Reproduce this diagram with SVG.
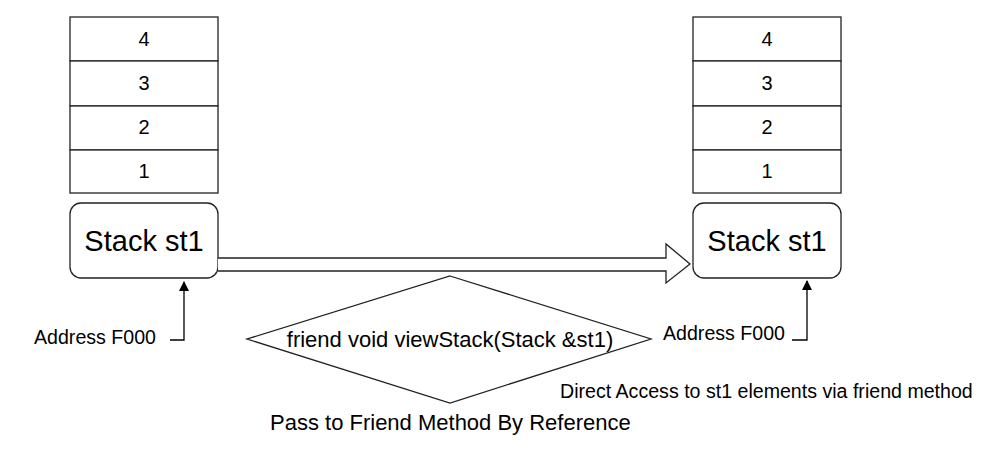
<svg xmlns="http://www.w3.org/2000/svg" width="996" height="452" viewBox="0 0 996 452">
<defs>
<style>
.cell{fill:#fff;stroke:#222;stroke-width:1.3}
.t{font-family:"Liberation Sans",Arial,sans-serif;fill:#000}
.num{font-size:20px;text-anchor:middle}
.big{font-size:29px;text-anchor:middle}
.lbl{font-size:19.6px}
.ln{fill:none;stroke:#000;stroke-width:1.3}
</style>
<marker id="ah" viewBox="0 0 10 10" refX="9" refY="5" markerWidth="10" markerHeight="10" markerUnits="userSpaceOnUse" orient="auto">
<path d="M0,0 L10,5 L0,10 Z" fill="#000"/>
</marker>
</defs>
<rect width="996" height="452" fill="#fff"/>
<g id="stackLeft">
<rect class="cell" x="70" y="17" width="148" height="44"/>
<rect class="cell" x="70" y="61" width="148" height="45"/>
<rect class="cell" x="70" y="106" width="148" height="44"/>
<rect class="cell" x="70" y="150" width="148" height="43"/>
<text class="t num" x="144" y="46">4</text>
<text class="t num" x="144" y="90">3</text>
<text class="t num" x="144" y="134">2</text>
<text class="t num" x="144" y="178">1</text>
</g>
<g id="boxLeft">
<rect class="cell" x="70" y="203" width="148" height="75" rx="11" ry="11"/>
<text class="t big" x="144" y="251">Stack st1</text>
</g>
<g id="stackRight">
<rect class="cell" x="693" y="17" width="148" height="44"/>
<rect class="cell" x="693" y="61" width="148" height="45"/>
<rect class="cell" x="693" y="106" width="148" height="44"/>
<rect class="cell" x="693" y="150" width="148" height="43"/>
<text class="t num" x="767" y="46">4</text>
<text class="t num" x="767" y="90">3</text>
<text class="t num" x="767" y="134">2</text>
<text class="t num" x="767" y="178">1</text>
</g>
<g id="boxRight">
<rect class="cell" x="693" y="203" width="148" height="75" rx="11" ry="11"/>
<text class="t big" x="767" y="251">Stack st1</text>
</g>
<g id="diamond">
<polygon class="cell" points="450,276 651,339 450,403 247,339"/>
<text class="t" x="450" y="347" font-size="22" text-anchor="middle">friend void viewStack(Stack &amp;st1)</text>
</g>
<g id="labels">
<text class="t lbl" x="34" y="344">Address F000</text>
<text class="t lbl" x="663" y="340">Address F000</text>
<text class="t lbl" x="560" y="398">Direct Access to st1 elements via friend method</text>
<text class="t" x="270" y="430" font-size="22">Pass to Friend Method By Reference</text>
</g>
<g id="connectors">
<path d="M218,258 L666,258 L666,244 L690,264 L666,283 L666,271 L218,271" fill="#fff" stroke="#222" stroke-width="1.3"/>
<path class="ln" d="M170,340 L184,340 L184,282" marker-end="url(#ah)"/>
<path class="ln" d="M792,340 L807,340 L807,281" marker-end="url(#ah)"/>
</g>
</svg>
